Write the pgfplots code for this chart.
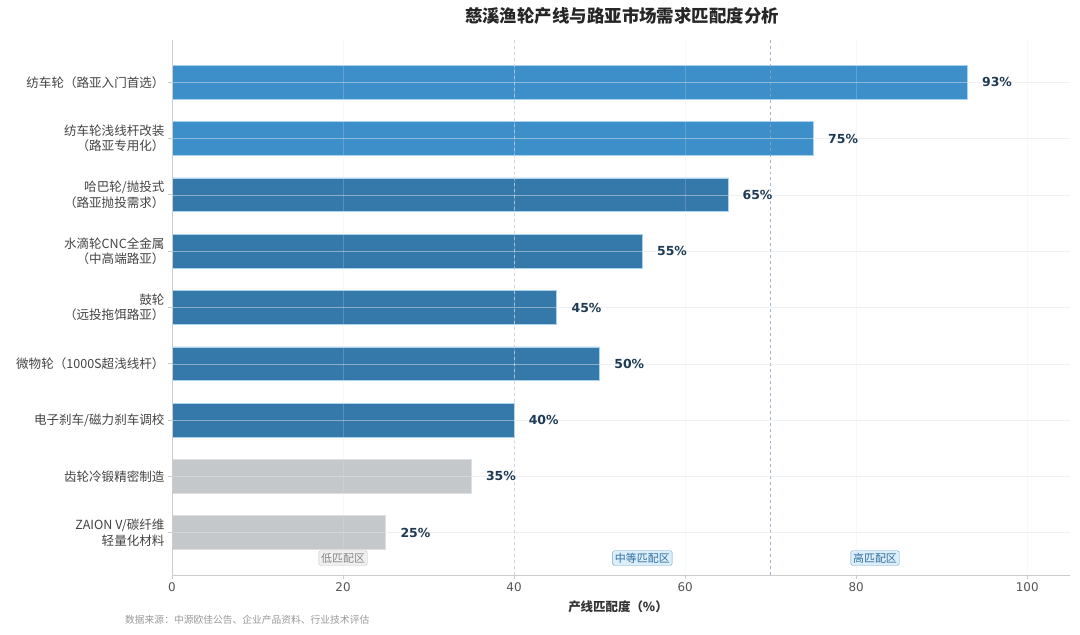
\documentclass[border=0pt]{standalone}
\usepackage{pgfplots}
\pgfplotsset{compat=1.18}
\usepackage{fontspec}
\setmainfont{DejaVu Sans}
\newfontfamily\cjk{Noto Sans CJK SC}
\definecolor{barA}{HTML}{3D8FC9}
\definecolor{barB}{HTML}{3578AA}
\definecolor{barC}{HTML}{C5C8CB}
\definecolor{edgeA}{HTML}{A9D3F0}
\definecolor{edgeC}{HTML}{DDDFE1}
\definecolor{valtxt}{HTML}{1F3A52}
\definecolor{spine}{HTML}{CCCCCC}
\definecolor{gridc}{HTML}{DCE4EA}
\definecolor{ticktxt}{HTML}{555555}
\definecolor{labtxt}{HTML}{444444}
\definecolor{dashA}{HTML}{B8CAD8}
\definecolor{dashB}{HTML}{8AA6BC}
\definecolor{midfill}{HTML}{DCEEFA}
\definecolor{middraw}{HTML}{6FA5CC}
\definecolor{midtxt}{HTML}{2F6FA0}
\pgfplotstableread{
y v
0 93
1 75
}\tabA
\pgfplotstableread{
y v
2 65
3 55
4 45
5 50
6 40
}\tabB
\pgfplotstableread{
y v
7 35
8 25
}\tabC
\pgfplotsset{
  mybar/.style={xbar, bar width=0.6, bar shift=0pt,
    nodes near coords={\pgfmathprintnumber{\pgfplotspointmeta}\%},
    point meta=x,
    nodes near coords style={anchor=west, xshift=11bp, font=\bfseries\fontsize{12.5}{13}\selectfont, text=valtxt}},
}
\tikzset{zone/.style={rounded corners=1.5bp, inner sep=2.3bp, font=\cjk\fontsize{11}{11}\selectfont}}
\begin{document}
\begin{tikzpicture}[x=1bp,y=1bp]
\useasboundingbox (0,0) rectangle (1080,635);
\fill[white] (0,0) rectangle (1080,635);
\begin{axis}[
  at={(172bp,60bp)}, anchor=south west,
  width=898bp, height=535bp, scale only axis,
  xmin=0, xmax=105, ymin=-0.75, ymax=8.75,
  y dir=reverse,
  axis x line*=bottom, axis y line*=left,
  axis line style={draw=spine, line width=0.8bp},
  xtick={0,20,40,60,80,100},
  ytick={0,1,2,3,4,5,6,7,8},
  yticklabels={
    {纺车轮（路亚入门首选）},
    {纺车轮浅线杆改装\\（路亚专用化）},
    {哈巴轮/抛投式\\（路亚抛投需求）},
    {水滴轮CNC全金属\\（中高端路亚）},
    {鼓轮\\（远投拖饵路亚）},
    {微物轮（1000S超浅线杆）},
    {电子刹车/磁力刹车调校},
    {齿轮冷锻精密制造},
    {ZAION V/碳纤维\\轻量化材料}},
  yticklabel style={align=right, font=\cjk\fontsize{12.6}{15.5}\selectfont, text=labtxt},
  xticklabel style={font=\fontsize{12}{12}\selectfont, text=ticktxt},
  /pgf/number format/assume math mode=true,
  tick style={draw=spine, line width=0.8bp},
  tick align=outside, major tick length=4bp,
  xmajorgrids, ymajorgrids,
  y grid style={draw=gridc, line width=0.6bp, opacity=0.5},
  x grid style={draw=gridc, line width=0.6bp, opacity=0.22},
  axis on top,
]
\addplot[mybar, fill=barA, draw=edgeA, line width=0.8bp] table[x=v,y=y] {\tabA};
\addplot[mybar, fill=barB, draw=edgeA, line width=0.8bp] table[x=v,y=y] {\tabB};
\addplot[mybar, fill=barC, draw=edgeC, line width=0.8bp] table[x=v,y=y] {\tabC};
\addplot[sharp plot, no marks, draw=dashA, dashed, line width=0.9bp, opacity=0.8] coordinates {(40,-0.75) (40,8.75)};
\addplot[sharp plot, no marks, draw=dashB, dashed, line width=0.9bp, opacity=0.8] coordinates {(70,-0.75) (70,8.75)};
\node[zone, fill=gray!12, draw=gray!45, text=gray!95] at (axis cs:20,8.45) {低匹配区};
\node[zone, fill=midfill, draw=middraw, text=midtxt] at (axis cs:55,8.45) {中等匹配区};
\node[zone, fill=midfill, draw=middraw, text=midtxt] at (axis cs:82.2,8.45) {高匹配区};
\end{axis}
\node[font=\cjk\bfseries\fontsize{17.5}{18}\selectfont, text=black!85] at (622,619) {慈溪渔轮产线与路亚市场需求匹配度分析};
\node[font=\cjk\bfseries\fontsize{12.5}{13}\selectfont, text=black!80] at (618,28) {产线匹配度（\%）};
\node[anchor=west, inner sep=0pt, font=\cjk\fontsize{9.8}{10}\selectfont, text=gray!80] at (125,15) {数据来源：中源欧佳公告、企业产品资料、行业技术评估};
\end{tikzpicture}
\end{document}
